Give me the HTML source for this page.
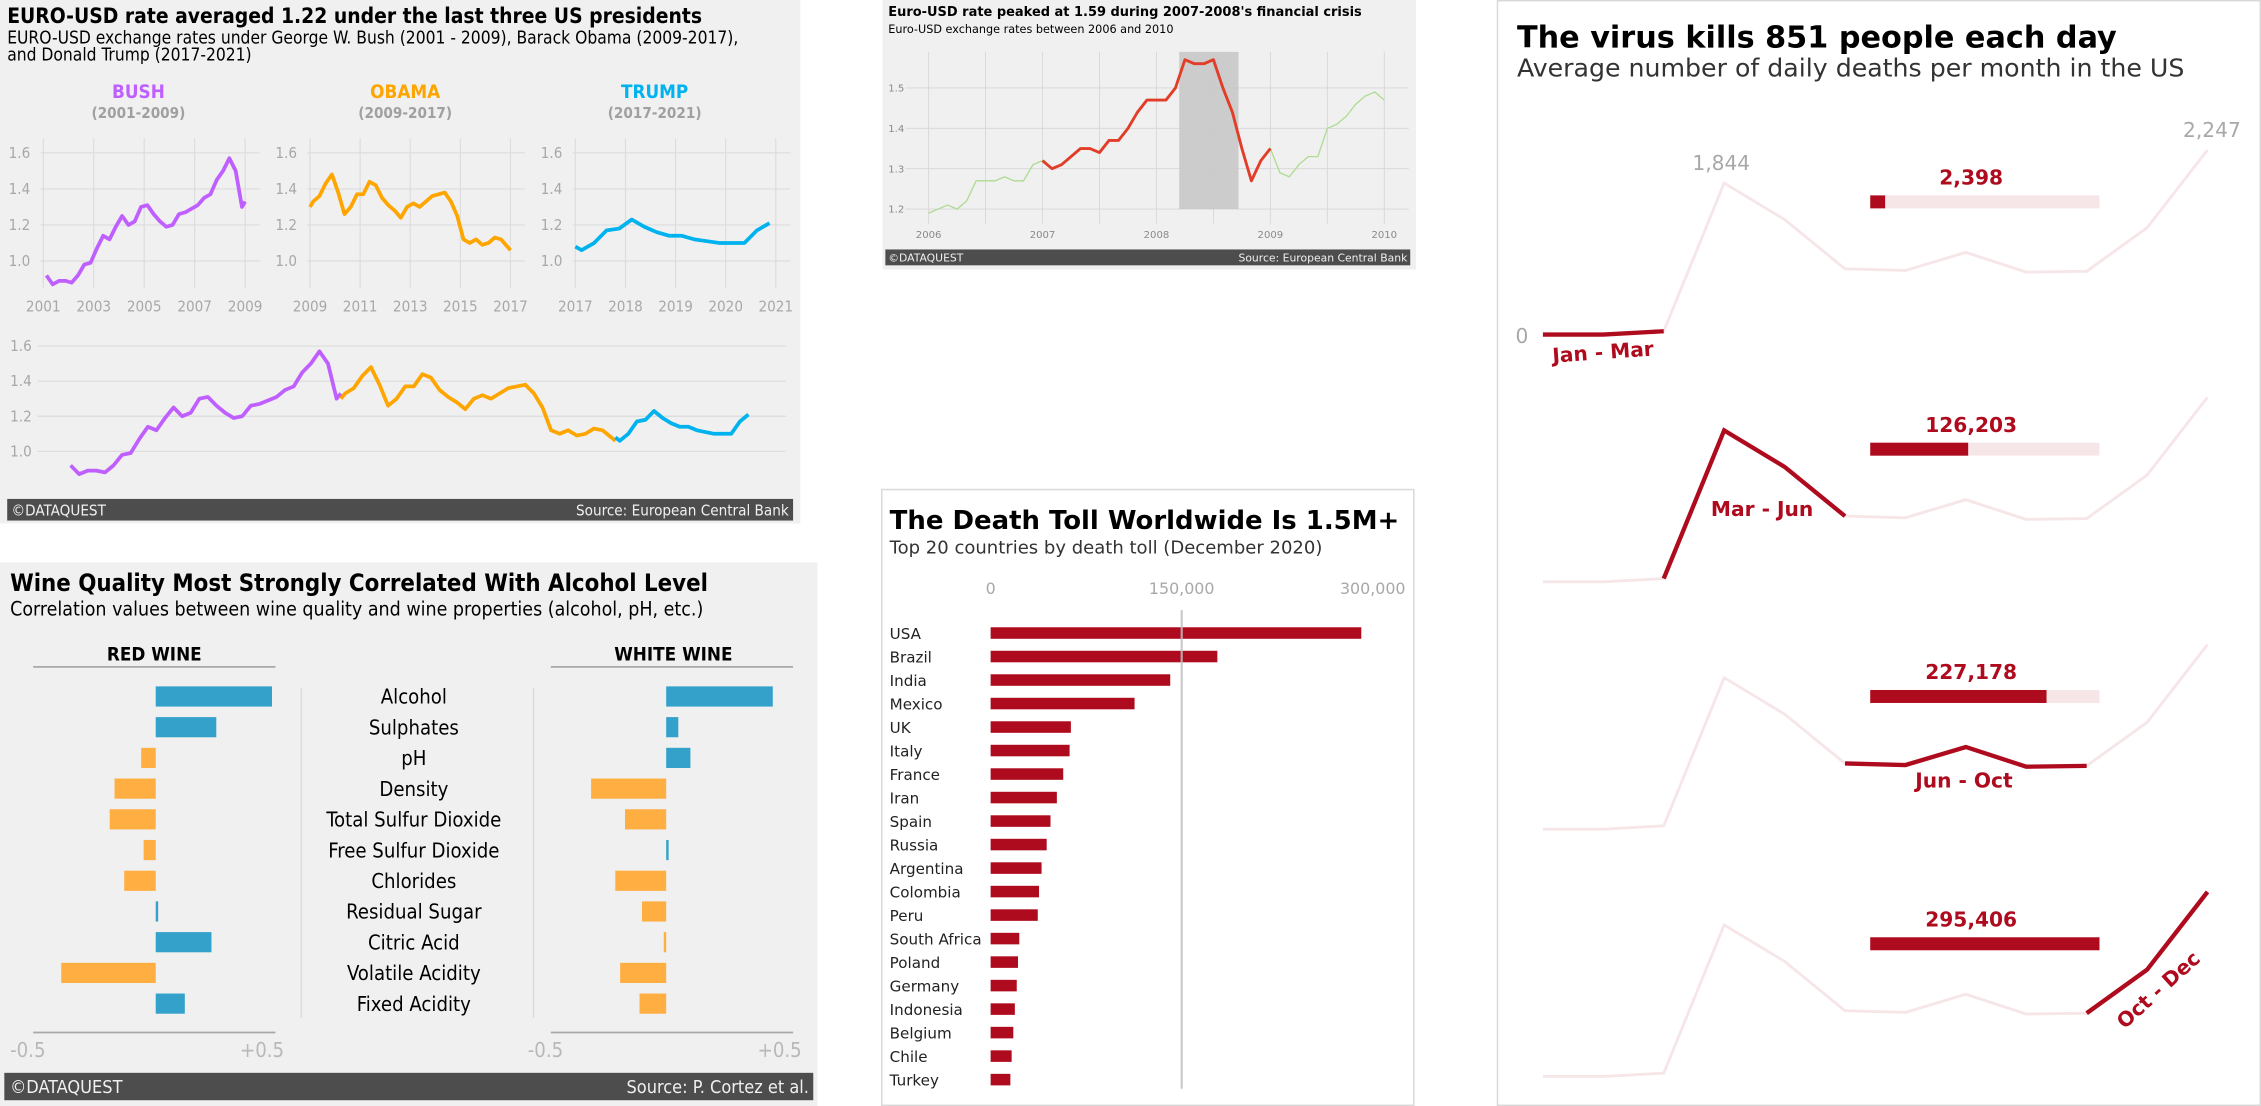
<!DOCTYPE html>
<html><head><meta charset="utf-8">
<style>
html,body{margin:0;padding:0;background:#fff;width:2261px;height:1106px;overflow:hidden}
svg{display:block}
text{font-family:"DejaVu Sans","Liberation Sans",sans-serif}
.n{font-family:"Liberation Sans Narrow","DejaVu Sans Condensed","Liberation Sans",sans-serif}
</style></head>
<body>
<svg id="root" width="2261" height="1106" viewBox="0 0 1568 767" preserveAspectRatio="none" xmlns="http://www.w3.org/2000/svg">
  <!-- Panel 1 -->
  <g>
    <rect x="0" y="0" width="555" height="363" fill="#f0f0f0"/>
    <text x="5" y="16" font-size="14.5" font-weight="bold" class="n">EURO-USD rate averaged 1.22 under the last three US presidents</text>
    <text x="5" y="30" font-size="12" class="n">EURO-USD exchange rates under George W. Bush (2001 - 2009), Barack Obama (2009-2017),</text>
    <text x="5" y="42" font-size="12" class="n">and Donald Trump (2017-2021)</text>
    <text x="96" y="68" font-size="13" font-weight="bold" fill="#bf5fff" text-anchor="middle" class="n">BUSH</text>
    <text x="96" y="82" font-size="10.5" font-weight="bold" fill="#a0a0a0" text-anchor="middle" class="n">(2001-2009)</text>
    <text x="281" y="68" font-size="13" font-weight="bold" fill="#ffa500" text-anchor="middle" class="n">OBAMA</text>
    <text x="281" y="82" font-size="10.5" font-weight="bold" fill="#a0a0a0" text-anchor="middle" class="n">(2009-2017)</text>
    <text x="454" y="68" font-size="13" font-weight="bold" fill="#00b2ee" text-anchor="middle" class="n">TRUMP</text>
    <text x="454" y="82" font-size="10.5" font-weight="bold" fill="#a0a0a0" text-anchor="middle" class="n">(2017-2021)</text>
    <g id="p1"></g>
    <rect x="5" y="346" width="545" height="15" fill="#4d4d4d"/>
    <text x="8" y="357.5" font-size="10.5" fill="#f0f0f0" class="n">©DATAQUEST</text>
    <text x="547" y="357.5" font-size="10.5" fill="#f0f0f0" text-anchor="end" class="n">Source: European Central Bank</text>
  </g>
  <!-- Panel 2 -->
  <g>
    <rect x="612" y="0" width="370" height="187" fill="#f0f0f0"/>
    <text x="616" y="11" font-size="9" font-weight="bold">Euro-USD rate peaked at 1.59 during 2007-2008's financial crisis</text>
    <text x="616" y="23" font-size="7.8">Euro-USD exchange rates between 2006 and 2010</text>
    <g id="p2"></g>
    <rect x="614" y="173" width="364" height="11" fill="#4d4d4d"/>
    <text x="616" y="181.5" font-size="7.5" fill="#f0f0f0">©DATAQUEST</text>
    <text x="976" y="181.5" font-size="7.5" fill="#f0f0f0" text-anchor="end">Source: European Central Bank</text>
  </g>
  <!-- Panel 3 -->
  <g>
    <rect x="0" y="390" width="567" height="377" fill="#f0f0f0"/>
    <text x="7" y="410" font-size="16.5" font-weight="bold" class="n">Wine Quality Most Strongly Correlated With Alcohol Level</text>
    <text x="7" y="427" font-size="13.5" class="n">Correlation values between wine quality and wine properties (alcohol, pH, etc.)</text>
    <text x="107" y="458" font-size="13" font-weight="bold" text-anchor="middle" class="n">RED WINE</text>
    <line x1="23" y1="462.5" x2="191" y2="462.5" stroke="#a8a8a8" stroke-width="1.2"/>
    <text x="467" y="458" font-size="13" font-weight="bold" text-anchor="middle" class="n">WHITE WINE</text>
    <line x1="382" y1="462.5" x2="550" y2="462.5" stroke="#a8a8a8" stroke-width="1.2"/>
    <line x1="209" y1="477" x2="209" y2="706" stroke="#dcdcdc" stroke-width="1"/>
    <line x1="370" y1="477" x2="370" y2="706" stroke="#dcdcdc" stroke-width="1"/>
    <g id="p3"></g>
    <line x1="23" y1="716" x2="191" y2="716" stroke="#a8a8a8" stroke-width="1.2"/>
    <line x1="382" y1="716" x2="550" y2="716" stroke="#a8a8a8" stroke-width="1.2"/>
    <text x="7" y="733" font-size="14" fill="#b8b8b8" class="n">-0.5</text>
    <text x="197" y="733" font-size="14" fill="#b8b8b8" text-anchor="end" class="n">+0.5</text>
    <text x="366" y="733" font-size="14" fill="#b8b8b8" class="n">-0.5</text>
    <text x="556" y="733" font-size="14" fill="#b8b8b8" text-anchor="end" class="n">+0.5</text>
    <rect x="3" y="744" width="561" height="19" fill="#4d4d4d"/>
    <text x="7" y="758" font-size="12.5" fill="#f0f0f0" class="n">©DATAQUEST</text>
    <text x="561" y="758" font-size="12.5" fill="#f0f0f0" text-anchor="end" class="n">Source: P. Cortez et al.</text>
  </g>
  <!-- Panel 4 -->
  <g>
    <rect x="611.5" y="339.5" width="369" height="427" fill="#fff" stroke="#d8d8d8"/>
    <text x="617" y="367" font-size="18" font-weight="bold">The Death Toll Worldwide Is 1.5M+</text>
    <text x="617" y="384" font-size="12.5" fill="#333">Top 20 countries by death toll (December 2020)</text>
    <g id="p4"></g>
  </g>
  <!-- Panel 5 -->
  <g>
    <rect x="1038.5" y="0.5" width="529" height="766" fill="#fff" stroke="#d8d8d8"/>
    <text x="1052" y="33" font-size="21" font-weight="bold">The virus kills 851 people each day</text>
    <text x="1052" y="53" font-size="17.5" fill="#333">Average number of daily deaths per month in the US</text>
    <g id="p5"></g>
  </g>
</svg>
<script>
const NS = "http://www.w3.org/2000/svg";
function mk(parent, tag, attrs, txt) {
  const el = document.createElementNS(NS, tag);
  for (const k in attrs) el.setAttribute(k, attrs[k]);
  if (txt !== undefined) el.textContent = txt;
  parent.appendChild(el);
  return el;
}

/* ---------- Panel 1 data: quarterly EUR-USD 2001-2020 ---------- */
const fxStartYear = 2001;
const fxQuarterly = [
  0.92,0.87,0.89,0.89, 0.88,0.92,0.98,0.99, 1.07,1.14,1.12,1.19, 1.25,1.20,1.22,1.30,
  1.31,1.26,1.22,1.19, 1.20,1.26,1.27,1.29, 1.31,1.35,1.37,1.45, 1.50,1.57,1.50,1.30,
  1.33,1.36,1.43,1.48, 1.38,1.26,1.30,1.37, 1.37,1.44,1.42,1.35, 1.31,1.28,1.24,1.30,
  1.32,1.30,1.33,1.36, 1.37,1.38,1.33,1.25, 1.12,1.10,1.12,1.09, 1.10,1.13,1.12,1.08,
  1.06,1.10,1.17,1.18, 1.23,1.19,1.16,1.14, 1.14,1.12,1.11,1.10, 1.10,1.10,1.17,1.21
];
const fxTicksY = [1.0, 1.2, 1.4, 1.6];
const presidents = ["bush","obama","trump"];
const presColors = ["#bf5fff","#ffa500","#00b2ee"];
const presRanges = [[2001,2009],[2009,2017],[2017,2021]];
const presYearTicks = [[2001,2003,2005,2007,2009],[2009,2011,2013,2015,2017],[2017,2018,2019,2020,2021]];

const p1 = document.getElementById("p1");
const smallX0 = [30, 215, 399], smallX1 = [170, 354, 538];
function smallY(v){ return 181 - (v - 1.0) / 0.6 * 75; }
function fxTime(i){ return fxStartYear + i/4 + 0.125; }
presidents.forEach((p, k) => {
  const [a, b] = presRanges[k];
  const xs = t => smallX0[k] + (t - a) / (b - a) * (smallX1[k] - smallX0[k]);
  presYearTicks[k].forEach(yr => {
    const g = mk(p1, "line", {x1: xs(yr), x2: xs(yr), y1: 96, y2: 200, stroke: "#dcdcdc", "stroke-width": 0.8});
    
    
    const t = mk(p1, "text", {x: xs(yr), y: 216, "font-size": 10.5, fill: "#a8a8a8", "text-anchor": "middle", class: "n"}, String(yr));
    
    
  });
  fxTicksY.forEach(v => {
    const g = mk(p1, "line", {x1: smallX0[k] - 2, x2: smallX1[k] + 10, y1: smallY(v), y2: smallY(v), stroke: "#dcdcdc", "stroke-width": 0.8});
    
    
    const t = mk(p1, "text", {x: smallX0[k] - 24, y: smallY(v) + 3.5, "font-size": 10.5, fill: "#a8a8a8", class: "n"}, v.toFixed(1));
    
    
  });
  const pts = [];
  fxQuarterly.forEach((v, i) => { const t = fxTime(i); if (t >= a - 0.13 && t <= b + 0.13) pts.push([xs(Math.min(Math.max(t, a), b)), smallY(v)]); });
  const l = mk(p1, "polyline", {points: pts.map(q => q.join(",")).join(" "), fill: "none", stroke: presColors[k], "stroke-width": 2.6, "stroke-linejoin": "round"});
  
  
});
// bottom combined chart
function bigX(t){ return 46 + (t - 2001) * 23.8; }
function bigY(v){ return 313 - (v - 1.0) / 0.6 * 73; }
fxTicksY.forEach(v => {
  const g = mk(p1, "line", {x1: 26, x2: 545, y1: bigY(v), y2: bigY(v), stroke: "#dcdcdc", "stroke-width": 0.8});
  
  
  const t = mk(p1, "text", {x: 7, y: bigY(v) + 3.5, "font-size": 10.5, fill: "#a8a8a8", class: "n"}, v.toFixed(1));
  
  
});
presidents.forEach((p, k) => {
  const [a, b] = presRanges[k];
  const pts = [];
  fxQuarterly.forEach((v, i) => { const t = fxTime(i); if (t >= a - 0.13 && t <= b + 0.13) pts.push([bigX(Math.min(Math.max(t, a), b)), bigY(v)]); });
  const l = mk(p1, "polyline", {points: pts.map(q => q.join(",")).join(" "), fill: "none", stroke: presColors[k], "stroke-width": 2.6, "stroke-linejoin": "round"});
  
  
});

/* ---------- Panel 2 data: monthly EUR-USD 2006-2010 ---------- */
const crisisMonthly = [
  1.19,1.20,1.21,1.20,1.22,1.27,1.27,1.27,1.28,1.27,1.27,1.31,
  1.32,1.30,1.31,1.33,1.35,1.35,1.34,1.37,1.37,1.40,1.44,1.47,
  1.47,1.47,1.50,1.57,1.56,1.56,1.57,1.50,1.44,1.35,1.27,1.32,
  1.35,1.29,1.28,1.31,1.33,1.33,1.40,1.41,1.43,1.46,1.48,1.49,1.47
];
const crisisYearTicks = [2006, 2007, 2008, 2009, 2010];
const crisisValueTicks = [1.2, 1.3, 1.4, 1.5];
const crisisShade = [2008.2, 2008.72];
const p2 = document.getElementById("p2");
function cx(t){ return 644 + (t - 2006) * 79; }
function cy(v){ return 145 - (v - 1.2) / 0.3 * 84; }
crisisYearTicks.forEach((yr, i) => {
  [yr, yr + 0.5].forEach(t => {
    if (t > 2010.01) return;
    const g = mk(p2, "line", {x1: cx(t), x2: cx(t), y1: 36, y2: 155, stroke: "#d6d6d6", "stroke-width": 0.6});
    
    
  });
  const tx = mk(p2, "text", {x: cx(yr), y: 165, "font-size": 7, fill: "#8a8a8a", "text-anchor": "middle"}, String(yr));
  
  
});
crisisValueTicks.forEach(v => {
  const g = mk(p2, "line", {x1: 628, x2: 977, y1: cy(v), y2: cy(v), stroke: "#d6d6d6", "stroke-width": 0.6});
  
  
  const t = mk(p2, "text", {x: 616, y: cy(v) + 2.5, "font-size": 7, fill: "#8a8a8a"}, v.toFixed(1));
  
  
});
const shade = mk(p2, "rect", {x: cx(crisisShade[0]), y: 36, width: cx(crisisShade[1]) - cx(crisisShade[0]), height: cy(1.2) - 36, fill: "#c8c8c8", opacity: 0.9});


const allPts = crisisMonthly.map((v, i) => [cx(2006 + i/12), cy(v)]);
const green = mk(p2, "polyline", {points: allPts.map(q => q.join(",")).join(" "), fill: "none", stroke: "#addb8f", "stroke-width": 0.9});


const red = mk(p2, "polyline", {points: allPts.slice(12, 37).map(q => q.join(",")).join(" "), fill: "none", stroke: "#e23d28", "stroke-width": 2, "stroke-linejoin": "round"});



/* ---------- Panel 3 data: wine correlations ---------- */
const wineProps = ["Alcohol","Sulphates","pH","Density","Total Sulfur Dioxide","Free Sulfur Dioxide","Chlorides","Residual Sugar","Citric Acid","Volatile Acidity","Fixed Acidity"];
const redCorr = [0.48, 0.25, -0.06, -0.17, -0.19, -0.05, -0.13, 0.01, 0.23, -0.39, 0.12];
const whiteCorr = [0.44, 0.05, 0.10, -0.31, -0.17, 0.01, -0.21, -0.10, -0.01, -0.19, -0.11];
const p3 = document.getElementById("p3");
function wy(i){ return 483 + i * 21.3; }
function redX(v){ return 108 + v * 168; }
function whiteX(v){ return 462 + v * 168; }
wineProps.forEach((name, i) => {
  const t = mk(p3, "text", {x: 287, y: wy(i) + 5, "font-size": 14, "text-anchor": "middle", class: "n"}, name);
  
  
  const rv = redCorr[i];
  const rb = mk(p3, "rect", {x: Math.min(redX(0), redX(rv)), y: wy(i) - 7, width: Math.max(Math.abs(redX(rv) - redX(0)), 1.2), height: 14, fill: rv >= 0 ? "#33a1c9" : "#ffae42"});
  
  
  const wv = whiteCorr[i];
  const wb = mk(p3, "rect", {x: Math.min(whiteX(0), whiteX(wv)), y: wy(i) - 7, width: Math.max(Math.abs(whiteX(wv) - whiteX(0)), 1.2), height: 14, fill: wv >= 0 ? "#33a1c9" : "#ffae42"});
  
  
});

/* ---------- Panel 4 data: death toll ---------- */
const countries = ["USA","Brazil","India","Mexico","UK","Italy","France","Iran","Spain","Russia","Argentina","Colombia","Peru","South Africa","Poland","Germany","Indonesia","Belgium","Chile","Turkey"];
const deaths = [291000, 178000, 141000, 113000, 63000, 62000, 57000, 52000, 47000, 44000, 40000, 38000, 37000, 22500, 21500, 20500, 19000, 17800, 16500, 15500];
const deathTicks = [0, 150000, 300000];
const deathTickLabels = ["0", "150,000", "300,000"];
const p4 = document.getElementById("p4");
function dx(v){ return 687 + v / 300000 * 265; }
function dy(i){ return 439 + i * 16.3; }
deathTicks.forEach((v, i) => {
  const t = mk(p4, "text", {x: dx(v), y: 412, "font-size": 11, fill: "#a8a8a8", "text-anchor": "middle"}, deathTickLabels[i]);
  
  
});
countries.forEach((c, i) => {
  const b = mk(p4, "rect", {x: dx(0), y: dy(i) - 4, width: dx(deaths[i]) - dx(0), height: 8, fill: "#af0b1e"});
  
  
  const t = mk(p4, "text", {x: 617, y: dy(i) + 4, "font-size": 10.5, fill: "#222"}, c);
  
  
});
const ref = mk(p4, "line", {x1: dx(150000), x2: dx(150000), y1: 423, y2: 755, stroke: "#c0c0c0", "stroke-width": 1.5, opacity: 0.85});



/* ---------- Panel 5 data: US daily deaths ---------- */
const monthsIdx = [0,1,2,3,4,5,6,7,8,9,10,11];
const dailyDeaths = [0, 0, 40, 1844, 1400, 800, 780, 1000, 760, 770, 1300, 2247];
const cumulative = [2398, 126203, 227178, 295406];
const cumulativeLabels = ["2,398", "126,203", "227,178", "295,406"];
const segments = [[0,2],[2,5],[5,9],[9,11]];
const segLabels = ["Jan - Mar", "Mar - Jun", "Jun - Oct", "Oct - Dec"];
const p5 = document.getElementById("p5");
function mx(m){ return 1070 + m * 41.9; }
function my(v, k){ return 232 + k * 171.5 - v * (128 / 2247); }
for (let k = 0; k < 4; k++) {
  const bg = mk(p5, "polyline", {points: monthsIdx.map(m => mx(m) + "," + my(dailyDeaths[m], k)).join(" "), fill: "none", stroke: "#af0b1e", "stroke-opacity": 0.1, "stroke-width": 2});
  
  
  const [s, e] = segments[k];
  const hl = mk(p5, "polyline", {points: monthsIdx.slice(s, e + 1).map(m => mx(m) + "," + my(dailyDeaths[m], k)).join(" "), fill: "none", stroke: "#af0b1e", "stroke-width": 3});
  
  
  const by = 140 + k * 171.5;
  const track = mk(p5, "rect", {x: 1297, y: by - 4.5, width: 159, height: 9, fill: "#af0b1e", "fill-opacity": 0.1});
  
  
  const frac = Math.max(cumulative[k] / cumulative[3], 0.065);
  const fill = mk(p5, "rect", {x: 1297, y: by - 4.5, width: 159 * frac, height: 9, fill: "#af0b1e"});
  
  
  const lab = mk(p5, "text", {x: 1367, y: by - 12, "font-size": 14, "font-weight": "bold", fill: "#af0b1e", "text-anchor": "middle"}, cumulativeLabels[k]);
  
  
}
const segPos = [[1112, 249, -4], [1222, 358, 0], [1362, 546, 0], [1500, 690, -42]];
segLabels.forEach((s, k) => {
  const p = segPos[k];
  const t = mk(p5, "text", {x: p[0], y: p[1], "font-size": 14, "font-weight": "bold", fill: "#af0b1e", "text-anchor": "middle", transform: "rotate(" + p[2] + " " + p[0] + " " + p[1] + ")"}, s);
  
  
});
const zl = mk(p5, "text", {x: 1051, y: my(0, 0) + 6, "font-size": 14, fill: "#a8a8a8"}, "0");


const pk = mk(p5, "text", {x: mx(3) - 2, y: my(dailyDeaths[3], 0) - 9, "font-size": 14, fill: "#a8a8a8", "text-anchor": "middle"}, "1,844");


const dk = mk(p5, "text", {x: 1554, y: my(dailyDeaths[11], 0) - 9, "font-size": 14, fill: "#a8a8a8", "text-anchor": "end"}, "2,247");


</script>
</body></html>
